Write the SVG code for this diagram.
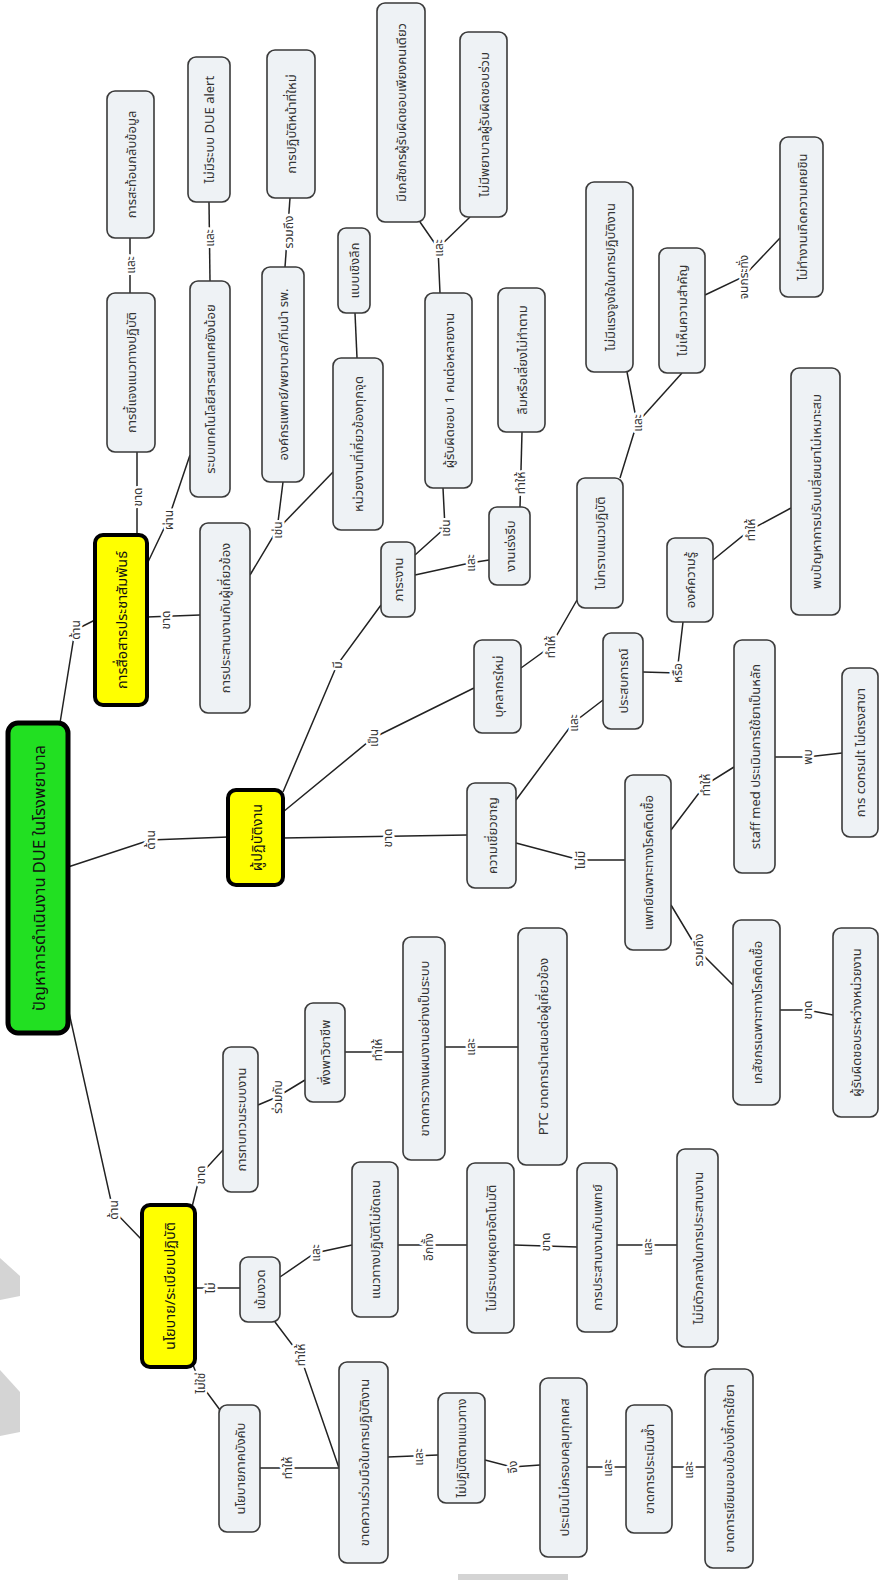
<svg xmlns="http://www.w3.org/2000/svg" width="880" height="1580" viewBox="0 0 880 1580">
<style>
.n rect{fill:#eef2f5;stroke:#3a3a3a;stroke-width:1.6}
.y rect{fill:#ffff00;stroke:#000;stroke-width:4}
.g rect{fill:#22e022;stroke:#000;stroke-width:5}
text{font-family:"Noto Sans","Noto Sans Thai",sans-serif;text-anchor:middle;dominant-baseline:central;fill:#333}
.n text{font-size:13px}
.n text.s{font-size:12px}
.y text{font-size:14.5px;fill:#111}
.g text{font-size:16.5px;fill:#111}
.c polyline{fill:none;stroke:#222;stroke-width:1.5}
.c text{font-size:12px;stroke:#fff;stroke-width:5;paint-order:stroke;stroke-linejoin:round}
.wm{fill:#d4d4d4}
</style>
<rect width="880" height="1580" fill="#fff"/>
<polygon class="wm" points="0,1258 20,1276 20,1296 0,1300"/>
<polygon class="wm" points="0,1370 20,1392 20,1432 0,1436"/>
<rect class="wm" x="458" y="1574" width="110" height="6"/>
<g id="connectors" class="c">
<polyline points="60,723 75,630 95,620"/><text x="75" y="630" transform="rotate(-90 75 630)">ด้าน</text>
<polyline points="137,535 137,452"/><text x="137" y="497" transform="rotate(-90 137 497)">ขาด</text>
<polyline points="130,293 130,238"/><text x="130" y="265" transform="rotate(-90 130 265)">และ</text>
<polyline points="148,562 168,520 190,455"/><text x="168" y="520" transform="rotate(-90 168 520)">ผ่าน</text>
<polyline points="210,281 209,202"/><text x="209" y="238" transform="rotate(-90 209 238)">และ</text>
<polyline points="147,617 200,615"/><text x="165" y="620" transform="rotate(-90 165 620)">ขาด</text>
<polyline points="250,575 277,530 283,482"/><polyline points="277,530 333,472"/><text x="277" y="530" transform="rotate(-90 277 530)">เช่น</text>
<polyline points="285,267 290,198"/><text x="288" y="232" transform="rotate(-90 288 232)">รวมถึง</text>
<polyline points="357,358 355,313"/>
<polyline points="68,867 150,840 228,837"/><text x="150" y="840" transform="rotate(-90 150 840)">ด้าน</text>
<polyline points="283,792 337,665 381,605"/><text x="337" y="665" transform="rotate(-90 337 665)">มี</text>
<polyline points="283,812 373,738 474,688"/><text x="373" y="738" transform="rotate(-90 373 738)">เป็น</text>
<polyline points="283,838 467,835"/><text x="387" y="838" transform="rotate(-90 387 838)">ขาด</text>
<polyline points="415,555 445,528 443,488"/><text x="445" y="528" transform="rotate(-90 445 528)">เช่น</text>
<polyline points="415,575 470,563 489,560"/><text x="470" y="563" transform="rotate(-90 470 563)">และ</text>
<polyline points="520,507 522,432"/><text x="520" y="483" transform="rotate(-90 520 483)">ทำให้</text>
<polyline points="440,293 438,248 420,222"/><polyline points="438,248 470,217"/><text x="438" y="248" transform="rotate(-90 438 248)">และ</text>
<polyline points="521,668 550,647 577,600"/><text x="550" y="647" transform="rotate(-90 550 647)">ทำให้</text>
<polyline points="620,478 637,423 627,372"/><polyline points="637,423 682,373"/><text x="637" y="423" transform="rotate(-90 637 423)">และ</text>
<polyline points="705,295 743,277 780,238"/><text x="743" y="277" transform="rotate(-90 743 277)">จนกระทั่ง</text>
<polyline points="516,800 573,723 603,700"/><text x="573" y="723" transform="rotate(-90 573 723)">และ</text>
<polyline points="643,672 677,673 683,622"/><text x="677" y="673" transform="rotate(-90 677 673)">หรือ</text>
<polyline points="713,560 750,530 791,508"/><text x="750" y="530" transform="rotate(-90 750 530)">ทำให้</text>
<polyline points="516,843 580,860 625,860"/><text x="580" y="860" transform="rotate(-90 580 860)">ไม่มี</text>
<polyline points="671,830 705,785 734,767"/><text x="705" y="785" transform="rotate(-90 705 785)">ทำให้</text>
<polyline points="775,757 807,757 842,753"/><text x="807" y="757" transform="rotate(-90 807 757)">พบ</text>
<polyline points="671,905 698,950 733,985"/><text x="698" y="950" transform="rotate(-90 698 950)">รวมถึง</text>
<polyline points="780,1010 807,1010 833,1015"/><text x="807" y="1010" transform="rotate(-90 807 1010)">ขาด</text>
<polyline points="68,1008 113,1210 142,1240"/><text x="113" y="1210" transform="rotate(-90 113 1210)">ด้าน</text>
<polyline points="192,1207 200,1175 223,1150"/><text x="200" y="1175" transform="rotate(-90 200 1175)">ขาด</text>
<polyline points="258,1105 277,1097 305,1080"/><text x="277" y="1097" transform="rotate(-90 277 1097)">ร่วมกับ</text>
<polyline points="345,1052 403,1052"/><text x="377" y="1050" transform="rotate(-90 377 1050)">ทำให้</text>
<polyline points="445,1047 518,1047"/><text x="470" y="1047" transform="rotate(-90 470 1047)">และ</text>
<polyline points="195,1288 240,1288"/><text x="210" y="1288" transform="rotate(-90 210 1288)">ไม่</text>
<polyline points="280,1277 315,1253 352,1245"/><text x="315" y="1253" transform="rotate(-90 315 1253)">และ</text>
<polyline points="398,1245 467,1245"/><text x="428" y="1247" transform="rotate(-90 428 1247)">อีกทั้ง</text>
<polyline points="514,1245 577,1247"/><text x="545" y="1242" transform="rotate(-90 545 1242)">ขาด</text>
<polyline points="617,1245 677,1245"/><text x="647" y="1247" transform="rotate(-90 647 1247)">และ</text>
<polyline points="275,1322 300,1355 339,1468"/><text x="300" y="1355" transform="rotate(-90 300 1355)">ทำให้</text>
<polyline points="193,1365 200,1383 220,1410"/><text x="200" y="1383" transform="rotate(-90 200 1383)">ไม่ใช่</text>
<polyline points="260,1468 339,1468"/><text x="287" y="1468" transform="rotate(-90 287 1468)">ทำให้</text>
<polyline points="388,1457 438,1455"/><text x="418" y="1457" transform="rotate(-90 418 1457)">และ</text>
<polyline points="485,1460 512,1467 540,1465"/><text x="512" y="1467" transform="rotate(-90 512 1467)">จึง</text>
<polyline points="587,1467 626,1467"/><text x="607" y="1468" transform="rotate(-90 607 1468)">และ</text>
<polyline points="672,1467 705,1467"/><text x="688" y="1470" transform="rotate(-90 688 1470)">และ</text>
</g>
<g id="root" class="g"><rect x="8" y="723" width="60" height="310" rx="10"/><text x="38" y="878" transform="rotate(-90 38 878)">ปัญหาการดำเนินงาน DUE ในโรงพยาบาล</text></g>
<g id="y1" class="y"><rect x="95" y="535" width="52" height="170" rx="8"/><text x="121" y="620" transform="rotate(-90 121 620)">การสื่อสารประชาสัมพันธ์</text></g>
<g id="y2" class="y"><rect x="228" y="790" width="55" height="95" rx="8"/><text x="255.5" y="837.5" transform="rotate(-90 255.5 837.5)">ผู้ปฏิบัติงาน</text></g>
<g id="y3" class="y"><rect x="142" y="1205" width="53" height="162" rx="8"/><text x="168.5" y="1286" transform="rotate(-90 168.5 1286)">นโยบาย/ระเบียบปฏิบัติ</text></g>
<g id="n1" class="n"><rect x="107" y="91" width="47" height="147" rx="8"/><text x="130.5" y="164.5" transform="rotate(-90 130.5 164.5)">การสะท้อนกลับข้อมูล</text></g>
<g id="n2" class="n"><rect x="107" y="293" width="48" height="159" rx="8"/><text x="131" y="372.5" transform="rotate(-90 131 372.5)">การชี้แจงแนวทางปฏิบัติ</text></g>
<g id="n3" class="n"><rect x="188" y="57" width="42" height="145" rx="8"/><text x="209" y="129.5" transform="rotate(-90 209 129.5)">ไม่มีระบบ DUE alert</text></g>
<g id="n4" class="n"><rect x="190" y="281" width="40" height="216" rx="8"/><text x="210" y="389" transform="rotate(-90 210 389)">ระบบเทคโนโลยีสารสนเทศยังน้อย</text></g>
<g id="n5" class="n"><rect x="267" y="50" width="48" height="148" rx="8"/><text x="291" y="124" transform="rotate(-90 291 124)">การปฏิบัติหน้าที่ใหม่</text></g>
<g id="n6" class="n"><rect x="262" y="267" width="42" height="215" rx="8"/><text x="283" y="374.5" transform="rotate(-90 283 374.5)">องค์กรแพทย์/พยาบาล/ทีมนำ รพ.</text></g>
<g id="n7" class="n"><rect x="200" y="523" width="50" height="190" rx="8"/><text x="225" y="618" transform="rotate(-90 225 618)">การประสานงานกับผู้เกี่ยวข้อง</text></g>
<g id="n8" class="n"><rect x="338" y="228" width="32" height="85" rx="8"/><text x="354" y="270.5" transform="rotate(-90 354 270.5)">แบบเชิงลึก</text></g>
<g id="n9" class="n"><rect x="333" y="358" width="50" height="172" rx="8"/><text x="358" y="444" transform="rotate(-90 358 444)">หน่วยงานที่เกี่ยวข้องทุกจุด</text></g>
<g id="n10" class="n"><rect x="377" y="3" width="48" height="219" rx="8"/><text x="401" y="112.5" transform="rotate(-90 401 112.5)">มีเภสัชกรผู้รับผิดชอบเพียงคนเดียว</text></g>
<g id="n11" class="n"><rect x="460" y="32" width="47" height="185" rx="8"/><text x="483.5" y="124.5" transform="rotate(-90 483.5 124.5)">ไม่มีพยาบาลผู้รับผิดชอบร่วม</text></g>
<g id="n12" class="n"><rect x="425" y="293" width="47" height="195" rx="8"/><text x="448.5" y="390.5" transform="rotate(-90 448.5 390.5)">ผู้รับผิดชอบ 1 คนต่อหลายงาน</text></g>
<g id="n13" class="n"><rect x="498" y="288" width="47" height="144" rx="8"/><text x="521.5" y="360" transform="rotate(-90 521.5 360)">ลืมหรือเลี่ยงไม่ทำตาม</text></g>
<g id="n14" class="n"><rect x="489" y="507" width="41" height="78" rx="8"/><text x="509.5" y="546" transform="rotate(-90 509.5 546)">งานเร่งรีบ</text></g>
<g id="n15" class="n"><rect x="381" y="542" width="34" height="75" rx="8"/><text x="398" y="579.5" transform="rotate(-90 398 579.5)">ภาระงาน</text></g>
<g id="n16" class="n"><rect x="474" y="640" width="47" height="93" rx="8"/><text x="497.5" y="686.5" transform="rotate(-90 497.5 686.5)">บุคลากรใหม่</text></g>
<g id="n17" class="n"><rect x="577" y="478" width="46" height="130" rx="8"/><text x="600" y="543" transform="rotate(-90 600 543)">ไม่ทราบแนวปฏิบัติ</text></g>
<g id="n18" class="n"><rect x="586" y="182" width="47" height="190" rx="8"/><text x="609.5" y="277" transform="rotate(-90 609.5 277)">ไม่มีแรงจูงใจในการปฏิบัติงาน</text></g>
<g id="n19" class="n"><rect x="659" y="248" width="46" height="125" rx="8"/><text x="682" y="310.5" transform="rotate(-90 682 310.5)">ไม่เห็นความสำคัญ</text></g>
<g id="n20" class="n"><rect x="780" y="137" width="43" height="160" rx="8"/><text x="801.5" y="217" transform="rotate(-90 801.5 217)">ไม่ทำงานเกิดความเคยชิน</text></g>
<g id="n21" class="n"><rect x="603" y="633" width="40" height="96" rx="8"/><text x="623" y="681" transform="rotate(-90 623 681)">ประสบการณ์</text></g>
<g id="n22" class="n"><rect x="667" y="538" width="46" height="84" rx="8"/><text x="690" y="580" transform="rotate(-90 690 580)">องค์ความรู้</text></g>
<g id="n23" class="n"><rect x="791" y="368" width="49" height="247" rx="8"/><text x="815.5" y="491.5" transform="rotate(-90 815.5 491.5)">พบปัญหาการปรับเปลี่ยนยาไม่เหมาะสม</text></g>
<g id="n24" class="n"><rect x="467" y="783" width="49" height="105" rx="8"/><text x="491.5" y="835.5" transform="rotate(-90 491.5 835.5)">ความเชี่ยวชาญ</text></g>
<g id="n25" class="n"><rect x="625" y="775" width="46" height="175" rx="8"/><text x="648" y="862.5" transform="rotate(-90 648 862.5)">แพทย์เฉพาะทางโรคติดเชื้อ</text></g>
<g id="n26" class="n"><rect x="734" y="640" width="41" height="233" rx="8"/><text x="754.5" y="756.5" transform="rotate(-90 754.5 756.5)">staff med ประเมินการใช้ยาเป็นหลัก</text></g>
<g id="n27" class="n"><rect x="842" y="668" width="36" height="169" rx="8"/><text x="860" y="752.5" transform="rotate(-90 860 752.5)">การ consult ไม่ตรงสาขา</text></g>
<g id="n28" class="n"><rect x="733" y="920" width="47" height="185" rx="8"/><text x="756.5" y="1012.5" transform="rotate(-90 756.5 1012.5)">เภสัชกรเฉพาะทางโรคติดเชื้อ</text></g>
<g id="n29" class="n"><rect x="833" y="928" width="45" height="189" rx="8"/><text x="855.5" y="1022.5" transform="rotate(-90 855.5 1022.5)">ผู้รับผิดชอบระหว่างหน่วยงาน</text></g>
<g id="n30" class="n"><rect x="223" y="1047" width="35" height="145" rx="8"/><text x="240.5" y="1119.5" transform="rotate(-90 240.5 1119.5)">การทบทวนระบบงาน</text></g>
<g id="n31" class="n"><rect x="305" y="1003" width="40" height="99" rx="8"/><text x="325" y="1052.5" transform="rotate(-90 325 1052.5)">พึ่งพาวิชาชีพ</text></g>
<g id="n32" class="n"><rect x="403" y="937" width="42" height="223" rx="8"/><text x="424" y="1048.5" transform="rotate(-90 424 1048.5)">ขาดการวางแผนงานอย่างเป็นระบบ</text></g>
<g id="n33" class="n"><rect x="518" y="928" width="49" height="237" rx="8"/><text x="542.5" y="1046.5" transform="rotate(-90 542.5 1046.5)">PTC ขาดการนำเสนอต่อผู้เกี่ยวข้อง</text></g>
<g id="n34" class="n"><rect x="240" y="1257" width="40" height="65" rx="8"/><text x="260" y="1289.5" transform="rotate(-90 260 1289.5)">เข้มงวด</text></g>
<g id="n35" class="n"><rect x="352" y="1162" width="46" height="155" rx="8"/><text x="375" y="1239.5" transform="rotate(-90 375 1239.5)">แนวทางปฏิบัติไม่ชัดเจน</text></g>
<g id="n36" class="n"><rect x="467" y="1163" width="47" height="170" rx="8"/><text x="490.5" y="1248" transform="rotate(-90 490.5 1248)">ไม่มีระบบหยุดยาอัตโนมัติ</text></g>
<g id="n37" class="n"><rect x="577" y="1163" width="40" height="169" rx="8"/><text x="597" y="1247.5" transform="rotate(-90 597 1247.5)">การประสานงานกับแพทย์</text></g>
<g id="n38" class="n"><rect x="677" y="1149" width="41" height="198" rx="8"/><text x="697.5" y="1248" transform="rotate(-90 697.5 1248)">ไม่มีตัวกลางในการประสานงาน</text></g>
<g id="n39" class="n"><rect x="219" y="1405" width="41" height="127" rx="8"/><text x="239.5" y="1468.5" transform="rotate(-90 239.5 1468.5)">นโยบายภาคบังคับ</text></g>
<g id="n40" class="n"><rect x="339" y="1362" width="49" height="201" rx="8"/><text x="363.5" y="1462.5" transform="rotate(-90 363.5 1462.5)">ขาดความร่วมมือในการปฏิบัติงาน</text></g>
<g id="n41" class="n"><rect x="438" y="1393" width="47" height="110" rx="8"/><text class="s" x="461.5" y="1448" transform="rotate(-90 461.5 1448)">ไม่ปฏิบัติตามแนวทาง</text></g>
<g id="n42" class="n"><rect x="540" y="1378" width="47" height="179" rx="8"/><text x="563.5" y="1467.5" transform="rotate(-90 563.5 1467.5)">ประเมินไม่ครอบคลุมทุกเคส</text></g>
<g id="n43" class="n"><rect x="626" y="1405" width="46" height="128" rx="8"/><text x="649" y="1469" transform="rotate(-90 649 1469)">ขาดการประเมินซ้ำ</text></g>
<g id="n44" class="n"><rect x="705" y="1369" width="48" height="199" rx="8"/><text x="729" y="1468.5" transform="rotate(-90 729 1468.5)">ขาดการเขียนขอบข้อบ่งชี้การใช้ยา</text></g>
</svg>
